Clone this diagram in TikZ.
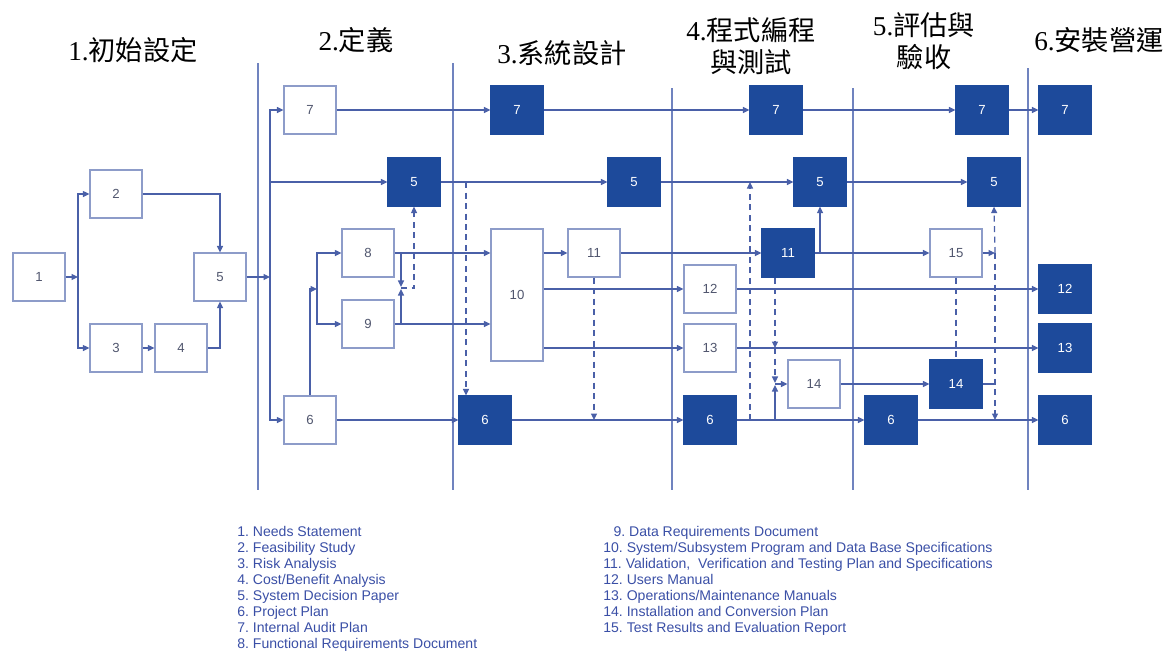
\documentclass[tikz,border=0pt]{standalone}
\usepackage{fontspec}
\setmainfont{Liberation Sans}
\newfontfamily\cjk{Noto Sans CJK TC}
\newfontfamily\digitfont{Liberation Serif}
\usetikzlibrary{arrows.meta}
\definecolor{navy}{HTML}{1D4A9B}
\definecolor{wirecol}{HTML}{4A60A8}
\definecolor{rim}{HTML}{8D9CC9}
\definecolor{rulecol}{HTML}{7083BF}
\definecolor{ink}{HTML}{3A4FA6}
\definecolor{numgrey}{HTML}{50566E}
\tikzset{
  box/.style={
    draw=rim,
    line width=0.7pt,
    fill=white,
    minimum width=10.4mm,
    minimum height=9.6mm,
    inner sep=0pt,
    text=numgrey,
    font=\fontsize{7.5}{9}\selectfont
  },
  dark/.style={box, draw=navy, fill=navy, text=white},
  tall/.style={box, minimum height=26.4mm},
  wire/.style={draw=wirecol, line width=0.7pt},
  arrow/.style={wire, -{Triangle[length=1.3mm,width=1.2mm]}},
  dashedarrow/.style={arrow, dash pattern=on 1.2mm off 0.9mm},
  dashedline/.style={wire, dash pattern=on 1.2mm off 0.9mm},
  divider/.style={draw=rulecol, line width=0.9pt},
  title/.style={
    font=\cjk\fontsize{15.5}{18.4}\selectfont,
    align=center,
    inner sep=0pt
  },
  legend/.style={
    font=\fontsize{8}{9.07}\selectfont\frenchspacing,
    text=ink,
    align=left,
    anchor=north west,
    inner sep=0pt
  }
}

\begin{document}
\begin{tikzpicture}[x=0.02cm, y=-0.02cm]
\useasboundingbox (0,0) rectangle (1169,650);

% phase titles
\node[title] (t1) at (133,50) {{\digitfont 1.}初始設定};
\node[title] (t2) at (356,40) {{\digitfont 2.}定義};
\node[title] (t3) at (562,53) {{\digitfont 3.}系統設計};
\node[title] (t4) at (751,46) {{\digitfont 4.}程式編程\\與測試};
\node[title] (t5) at (924,41) {{\digitfont 5.}評估與\\驗收};
\node[title] (t6) at (1099,40) {{\digitfont 6.}安裝營運};

% phase dividers
\foreach \x/\top in {258/63, 453/63, 672/88, 853/88, 1028/68}
  \draw[divider] (\x,\top) -- (\x,490);

% phase 1
\node[box] (w1) at (39,277) {1};
\node[box] (w2) at (116,194) {2};
\node[box] (w3) at (116,348) {3};
\node[box] (w4) at (181,348) {4};
\node[box] (w5) at (220,277) {5};

% phase 2
\node[box] (w7) at (310,110) {7};
\node[dark] (d5a) at (414,182) {5};
\node[box] (w8) at (368,253) {8};
\node[box] (w9) at (368,324) {9};
\node[box] (w6) at (310,420) {6};

% phase 3
\node[dark] (d7a) at (517,110) {7};
\node[dark] (d5b) at (634,182) {5};
\node[tall] (w10) at (517,295) {10};
\node[box] (w11) at (594,253) {11};
\node[dark] (d6a) at (485,420) {6};

% phase 4
\node[dark] (d7b) at (776,110) {7};
\node[dark] (d5c) at (820,182) {5};
\node[dark] (d11) at (788,253) {11};
\node[box] (w12) at (710,289) {12};
\node[box] (w13) at (710,348) {13};
\node[box] (w14) at (814,384) {14};
\node[dark] (d6b) at (710,420) {6};

% phase 5
\node[dark] (d7c) at (982,110) {7};
\node[dark] (d5d) at (994,182) {5};
\node[box] (w15) at (956,253) {15};
\node[dark] (d14) at (956,384) {14};
\node[dark] (d6c) at (891,420) {6};

% phase 6
\node[dark] (d7d) at (1065,110) {7};
\node[dark] (d12) at (1065,289) {12};
\node[dark] (d13) at (1065,348) {13};
\node[dark] (d6d) at (1065,420) {6};

% junctions
\coordinate (split1) at (78,277);
\coordinate (bus2) at (270,277);
\coordinate (bus89) at (317,289);
\coordinate (j89) at (401,288);
\coordinate (drop5) at (466,182);
\coordinate (rise6) at (750,420);
\coordinate (j14) at (775,384);
\coordinate (j15) at (995,253);

% phase 1 flow
\draw[arrow] (w1) -- (split1);
\draw[arrow] (split1) |- (w2);
\draw[arrow] (split1) |- (w3);
\draw[arrow] (w3) -- (w4);
\draw[arrow] (w2) -| (w5);
\draw[arrow] (w4) -| (w5);
\draw[arrow] (w5) -- (bus2);

% phase 2 flow
\draw[arrow] (bus2) |- (w7);
\draw[arrow] (bus2) |- (d5a);
\draw[arrow] (bus2) |- (w6);
\draw[arrow] (w6.north) |- (bus89);
\draw[arrow] (bus89) |- (w8);
\draw[arrow] (bus89) |- (w9);
\draw[arrow] (w8) -- (w8 -| w10.west);
\draw[arrow] (w9) -- (w9 -| w10.west);
\draw[arrow, shorten >=0.6pt] (w8 -| j89) -- (j89);
\draw[arrow, shorten >=0.6pt] (w9 -| j89) -- (j89);
\draw[dashedarrow] (j89) -| (d5a.south);

% rows across the phases
\draw[arrow] (w7) -- (d7a);
\draw[arrow] (d7a) -- (d7b);
\draw[arrow] (d7b) -- (d7c);
\draw[arrow] (d7c) -- (d7d);
\draw[arrow] (d5a) -- (d5b);
\draw[arrow] (d5b) -- (d5c);
\draw[arrow] (d5c) -- (d5d);
\draw[arrow] (w6) -- (d6a);
\draw[arrow] (d6a) -- (d6b);
\draw[arrow] (d6b) -- (d6c);
\draw[arrow] (d6c) -- (d6d);
\draw[dashedarrow] (drop5) -- (drop5 |- d6a.north);

% phase 3 flow
\draw[arrow] (w11 -| w10.east) -- (w11);
\draw[arrow] (w12 -| w10.east) -- (w12);
\draw[arrow] (w13 -| w10.east) -- (w13);
\draw[dashedarrow] (w11.south) -- (w11.south |- d6a);
\draw[arrow] (w11) -- (d11);

% phase 4 flow
\draw[arrow] (d11) -- (w15);
\draw[arrow] (d11 -| d5c) -- (d5c.south);
\draw[dashedarrow] (rise6) -- (rise6 |- d5c);
\draw[dashedarrow] (d11.south -| j14) -- (w13 -| j14);
\draw[dashedarrow, shorten >=0.6pt] (w13 -| j14) -- (j14);
\draw[arrow, shorten >=0.6pt] (d6b -| j14) -- (j14);
\draw[arrow] (j14) -- (w14);
\draw[arrow] (w12) -- (d12);
\draw[arrow] (w13) -- (d13);
\draw[arrow] (w14) -- (d14);

% phase 5 flow
\draw[arrow] (w15) -- (j15);
\draw[dashedarrow] (j15) -- (d5d.south);
\draw[dashedarrow] (j15) -- (j15 |- d6c);
\draw[dashedline] (w15) -- (d14);
\draw[wire] (d14) -- (d14 -| j15);

% legend
\node[legend] (keyA) at (237,526) {1. Needs Statement\\
2. Feasibility Study\\
3. Risk Analysis\\
4. Cost/Benefit Analysis\\
5. System Decision Paper\\
6. Project Plan\\
7. Internal Audit Plan\\
8. Functional Requirements Document};
\node[legend] (keyB) at (603,526) {\phantom{1}\,9. Data Requirements Document\\
10. System/Subsystem Program and Data Base Specifications\\
11. Validation,\ \ Verification and Testing Plan and Specifications\\
12. Users Manual\\
13. Operations/Maintenance Manuals\\
14. Installation and Conversion Plan\\
15. Test Results and Evaluation Report};

\end{tikzpicture}
\end{document}
